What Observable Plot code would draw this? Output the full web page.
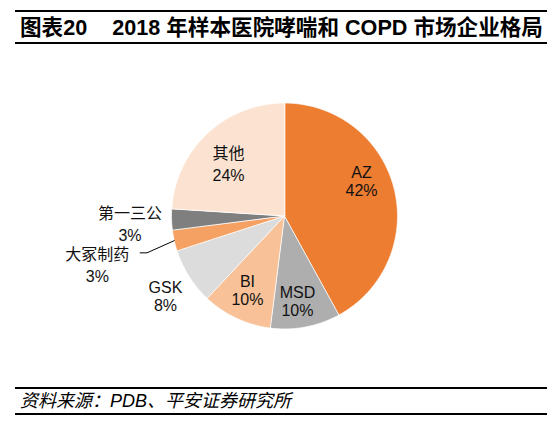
<!DOCTYPE html>
<html><head><meta charset="utf-8">
<script src="https://cdn.jsdelivr.net/npm/d3@7"></script>
<script src="https://cdn.jsdelivr.net/npm/@observablehq/plot@0.6"></script>
<style>
body{margin:0;background:#fff;width:554px;height:425px;position:relative;overflow:hidden;font-family:"Liberation Sans","Noto Sans CJK SC",sans-serif;color:#000}
.rule{position:absolute;left:15px;width:532px;height:2px;background:#000;}
#title{position:absolute;left:20px;top:16px;font-weight:bold;font-size:21.6px;line-height:24px;white-space:nowrap}
#foot{position:absolute;left:20px;top:391px;font-style:italic;font-size:18px;line-height:21px;white-space:nowrap}
#chart{position:absolute;left:0;top:46px;}
</style></head><body>
<div class="rule" style="top:10px"></div>
<div id="title">图表20<span style="margin-left:25px">2018 年样本医院哮喘和 COPD 市场企业格局</span></div>
<div class="rule" style="top:42px"></div>
<div id="chart"></div>
<div class="rule" style="top:386.5px"></div>
<div id="foot">资料来源：PDB、平安证券研究所</div>
<div class="rule" style="top:412.5px"></div>
<script>
// Data
const companies = ["AZ", "MSD", "BI", "GSK", "大冢制药", "第一三公", "其他"];
const shares = [42, 10, 10, 8, 3, 3, 24];
const colors = ["#ED7D31", "#AEAEAE", "#F8C197", "#DCDCDC", "#F4A163", "#7F7F7F", "#FCE3D1"];

// Label placement (layout): radial factor and angle nudge (degrees)
const labelLayout = {
  "AZ": {r: 0.747, da: -9.7},
  "MSD": {r: 0.765, da: 2.2},
  "BI": {r: 0.74, da: 1.1},
  "GSK": {r: 1.272, da: -1.7},
  "大冢制药": {r: 1.714, da: -2.3},
  "第一三公": {r: 1.369, da: -1.35},
  "其他": {r: 0.673, da: -4.2}
};

const total = d3.sum(shares);
let acc = 0;
const slices = companies.map((name, i) => {
  const a0 = acc / total * 360; acc += shares[i]; const a1 = acc / total * 360;
  return {name, value: shares[i], a0, a1, mid: (a0 + a1) / 2};
});
const rad = Math.PI / 180;
const pt = (deg, r) => [r * Math.sin(deg * rad), r * Math.cos(deg * rad)];

const polys = slices.flatMap(s => {
  const pts = [{name: s.name, x: 0, y: 0}];
  const n = Math.ceil((s.a1 - s.a0) / 0.5);
  for (let k = 0; k <= n; k++) {
    const [x, y] = pt(s.a0 + (s.a1 - s.a0) * k / n, 1);
    pts.push({name: s.name, x, y});
  }
  return pts;
});

const labels = slices.map(s => {
  const L = labelLayout[s.name];
  const [x, y] = pt(s.mid + L.da, L.r);
  return {name: s.name, pct: s.value + "%", x, y, cjk: /[\u4e00-\u9fff]/.test(s.name)};
});

const otsuka = slices.find(s => s.name === "大冢制药");
const p0 = pt(otsuka.mid, 1.0);
const p1 = pt(otsuka.mid - 2.4, 1.26);
const leader = [{x: p0[0], y: p0[1]}, {x: p1[0], y: p1[1]}, {x: p1[0] - 0.06, y: p1[1]}];

const font = '"Liberation Sans","Noto Sans CJK SC",sans-serif';
const latin = labels.filter(d => !d.cjk), cjk = labels.filter(d => d.cjk);
const chart = Plot.plot({
  width: 554, height: 339,
  marginLeft: 171, marginRight: 157, marginTop: 56.5, marginBottom: 56.5,
  x: {domain: [-1, 1], axis: null},
  y: {domain: [-1, 1], axis: null},
  color: {domain: companies, range: colors},
  style: {fontFamily: font, background: "transparent", overflow: "visible"},
  marks: [
    Plot.line(polys, {x: "x", y: "y", z: "name", fill: "name", stroke: "white", strokeWidth: 0.8, curve: "linear-closed"}),
    Plot.line(leader, {x: "x", y: "y", stroke: "black", strokeWidth: 1}),
    Plot.text(latin, {x: "x", y: "y", text: "name", dy: -9, fontSize: 16, fill: "#111"}),
    Plot.text(latin, {x: "x", y: "y", text: "pct", dy: 9, fontSize: 16, fill: "#111"}),
    Plot.text(cjk, {x: "x", y: "y", text: "name", dy: -11, fontSize: 16, fill: "#111"}),
    Plot.text(cjk, {x: "x", y: "y", text: "pct", dy: 11, fontSize: 16, fill: "#111"})
  ]
});
document.getElementById("chart").appendChild(chart);
</script>
</body></html>
